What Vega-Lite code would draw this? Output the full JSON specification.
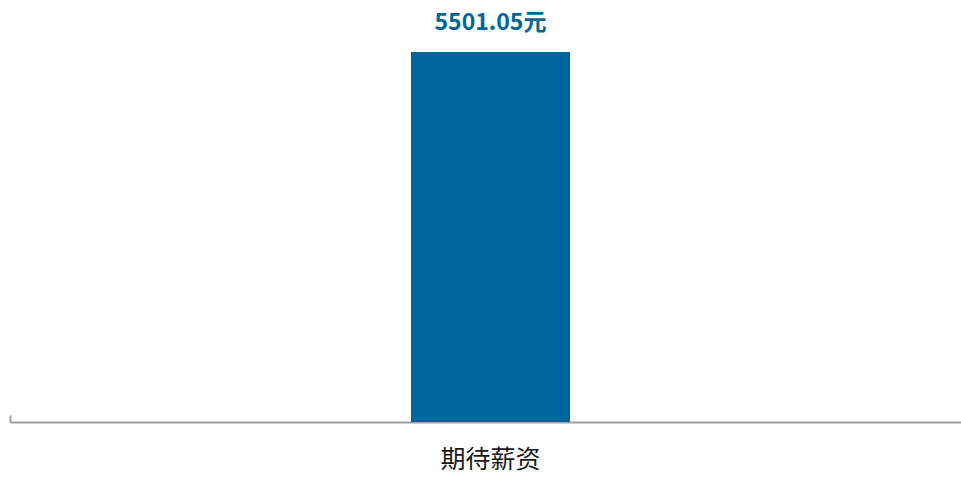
{
  "$schema": "https://vega.github.io/schema/vega-lite/v6.json",
  "autosize": {"type": "none"},
  "width": 951,
  "height": 422,
  "padding": {"left": 10, "top": 0, "right": 0, "bottom": 55},
  "background": "white",
  "config": {"view": {"stroke": null}},
  "data": {"values": [{"category": "期待薪资", "value": 5501.05, "label": "5501.05元"}]},
  "encoding": {
    "x": {
      "field": "category",
      "type": "nominal",
      "scale": {"paddingInner": 0, "paddingOuter": 0},
      "axis": {
        "title": null,
        "labelAngle": 0,
        "bandPosition": 0,
        "labelOffset": 5,
        "labelFont": "Noto Sans CJK SC",
        "labelFontSize": 25,
        "labelFontWeight": "normal",
        "labelColor": "#1a1a1a",
        "labelPadding": 32,
        "labelBaseline": "top",
        "ticks": true,
        "tickSize": -7,
        "tickColor": "#a0a0a0",
        "tickWidth": 2,
        "domainColor": "#a0a0a0",
        "domainWidth": 2
      }
    },
    "y": {
      "field": "value",
      "type": "quantitative",
      "scale": {"domain": [0, 6274], "nice": false},
      "axis": null
    }
  },
  "layer": [
    {
      "mark": {"type": "bar", "color": "#00659A", "width": {"band": 0.1672}, "xOffset": 5}
    },
    {
      "mark": {
        "type": "text",
        "color": "#00659A",
        "font": "Noto Sans CJK SC",
        "fontWeight": "bold",
        "fontSize": 23,
        "baseline": "alphabetic",
        "dy": -22,
        "xOffset": 5
      },
      "encoding": {"text": {"field": "label"}}
    }
  ]
}
